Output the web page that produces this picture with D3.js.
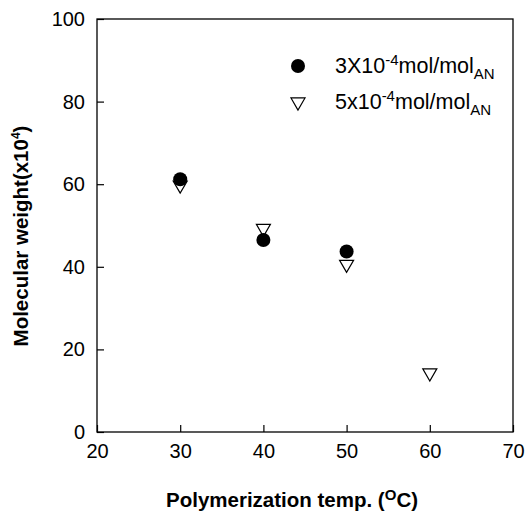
<!DOCTYPE html>
<html>
<head>
<meta charset="utf-8">
<script src="https://cdn.jsdelivr.net/npm/d3@7"></script>
<style>
  body { margin: 0; background: #fff; }
  text { font-family: "Liberation Sans", Arial, sans-serif; }
</style>
</head>
<body>
<div class="app"></div>
<script>
// data
var temps3 = [30, 40, 50];
var mw3 = [61.2, 46.5, 43.7];
var temps5 = [30, 40, 50, 60];
var mw5 = [59.8, 49.3, 40.6, 14.3];
var xTicks = [20, 30, 40, 50, 60, 70];
var yTicks = [0, 20, 40, 60, 80, 100];

var width = 527, height = 523;
var margin = {left: 97, top: 19, right: 14, bottom: 91};

var svg = d3.select(".app").append("svg")
    .attr("width", width).attr("height", height);

var x = d3.scaleLinear().domain([20, 70]).range([margin.left, width - margin.right]);
var y = d3.scaleLinear().domain([0, 100]).range([height - margin.bottom, margin.top]);

// frame
svg.append("rect")
    .attr("x", x(20)).attr("y", y(100))
    .attr("width", x(70) - x(20)).attr("height", y(0) - y(100))
    .attr("fill", "none").attr("stroke", "#000").attr("stroke-width", 1.3);

var xAxis = svg.append("g")
    .attr("transform", "translate(0," + y(0) + ")")
    .call(d3.axisBottom(x).tickValues(xTicks).tickSize(-7).tickPadding(12));
var yAxis = svg.append("g")
    .attr("transform", "translate(" + x(20) + ",0)")
    .call(d3.axisLeft(y).tickValues(yTicks).tickSize(-7).tickPadding(12));

[xAxis, yAxis].forEach(function (g) {
  g.select(".domain").remove();
  g.selectAll(".tick line").attr("stroke", "#000").attr("stroke-width", 1.2);
  g.selectAll(".tick text").attr("font-size", 20).attr("fill", "#000")
      .style("font-family", "Liberation Sans, Arial, sans-serif");
});

var tri = d3.symbol().type(d3.symbolTriangle).size(85);

// series 2 (open down triangles)
svg.selectAll(".t5").data(temps5).enter().append("path")
    .attr("class", "t5")
    .attr("d", tri)
    .attr("transform", function (d, i) { return "translate(" + x(d) + "," + y(mw5[i]) + ") rotate(180)"; })
    .attr("fill", "#fff").attr("stroke", "#000").attr("stroke-width", 1.2);

// series 1 (filled circles)
svg.selectAll(".c3").data(temps3).enter().append("circle")
    .attr("class", "c3")
    .attr("cx", function (d) { return x(d); })
    .attr("cy", function (d, i) { return y(mw3[i]); })
    .attr("r", 7).attr("fill", "#000");

// legend
var lg = svg.append("g");
lg.append("circle").attr("cx", 298).attr("cy", 66).attr("r", 7).attr("fill", "#000");
lg.append("path").attr("d", tri)
    .attr("transform", "translate(298,102) rotate(180)")
    .attr("fill", "#fff").attr("stroke", "#000").attr("stroke-width", 1.2);

function legendText(yy, lead) {
  var t = lg.append("text").attr("x", 335).attr("y", yy).attr("font-size", 21.5);
  t.append("tspan").text(lead + "10");
  t.append("tspan").attr("dy", -8).attr("font-size", 15).text("-4");
  t.append("tspan").attr("dy", 8).text("mol/mol");
  t.append("tspan").attr("dy", 6).attr("font-size", 15).text("AN");
}
legendText(73, "3X");
legendText(109, "5x");

// axis titles
var yt = svg.append("text")
    .attr("transform", "translate(28,236) rotate(-90)")
    .attr("text-anchor", "middle").attr("font-size", 20.5).attr("font-weight", "bold");
yt.append("tspan").text("Molecular weight(x10");
yt.append("tspan").attr("dy", -8).attr("font-size", 12).text("4");
yt.append("tspan").attr("dy", 8).text(")");

var xt = svg.append("text")
    .attr("x", 292).attr("y", 507)
    .attr("text-anchor", "middle").attr("font-size", 20.5).attr("font-weight", "bold");
xt.append("tspan").text("Polymerization temp. (");
xt.append("tspan").attr("dy", -7).attr("font-size", 15).text("O");
xt.append("tspan").attr("dy", 7).text("C)");
</script>
</body>
</html>
